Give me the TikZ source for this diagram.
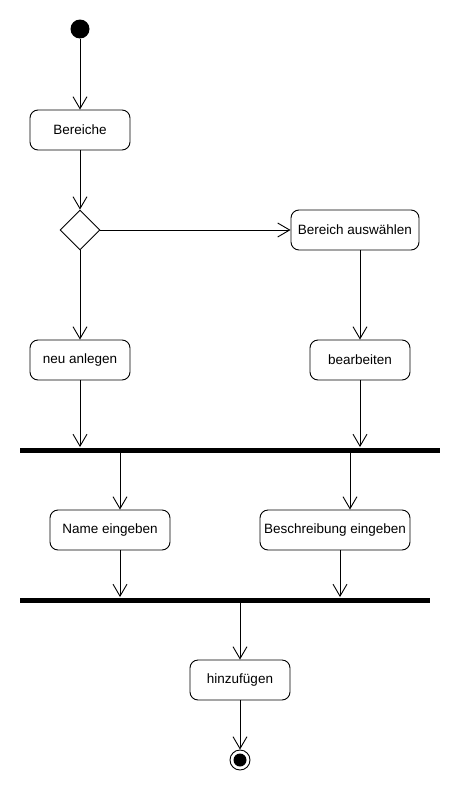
\documentclass[tikz,border=0pt]{standalone}
\usepackage{fontspec}
\setmainfont{Liberation Sans}
\usetikzlibrary{arrows.meta,shapes.geometric}
\begin{document}
\begin{tikzpicture}[x=10pt,y=-10pt,>={Straight Barb[length=12pt,width=14pt]},line width=0.9pt,
        action/.style={draw,rounded corners=8pt,minimum width=100pt,minimum height=40pt,inner sep=1pt,font=\fontsize{13.5}{16}\selectfont},
        startnode/.style={circle,fill=black,minimum size=19pt,inner sep=0pt},
        endnode/.style={circle,draw,fill=white,minimum size=20pt,inner sep=0pt,
            path picture={\fill[black] (path picture bounding box.center) circle (6.5pt);}},
        decision/.style={diamond,draw,minimum width=40pt,minimum height=40pt,inner sep=0pt},
        bar/.style={fill=black,minimum height=5pt,inner sep=0pt}]
        \useasboundingbox (0,0) rectangle (46,79);
        \begin{scope}
            % nodes
            \node[startnode] (start) at (8,2.9) {};
            \node[action] (bereiche) at (8,13) {Bereiche};
            \node[decision] (dec) at (8,23) {};
            \node[action,minimum width=128pt] (auswahl) at (35.5,23) {Bereich auswählen};
            \node[action] (neu) at (8,36) {neu anlegen};
            \node[action] (bearb) at (36,36) {bearbeiten};
            \node[bar,minimum width=420pt] (fork) at (23,45) {};
            \node[action,minimum width=120pt] (name) at (11,53) {Name eingeben};
            \node[action,minimum width=150pt] (beschr) at (33.5,53) {Beschreibung eingeben};
            \node[bar,minimum width=410pt] (join) at (22.5,60) {};
            \node[action] (hinz) at (24,68) {hinzufügen};
            \node[endnode] (final) at (24,76) {};
            % edges
            \draw[->] (start)--(bereiche);
            \draw[->] (bereiche)--(dec);
            \draw[->] (dec)--(auswahl);
            \draw[->] (dec)--(neu);
            \draw[->] (bearb.north |- auswahl.south)--(bearb);
            \draw[->] (neu)--(neu |- fork.north);
            \draw[->] (bearb)--(bearb |- fork.north);
            \draw[->] ([xshift=10pt]name.north |- fork.south)--([xshift=10pt]name.north);
            \draw[->] ([xshift=15pt]beschr.north |- fork.south)--([xshift=15pt]beschr.north);
            \draw[->] ([xshift=10pt]name.south)--([xshift=10pt]name.south |- join.north);
            \draw[->] ([xshift=5pt]beschr.south)--([xshift=5pt]beschr.south |- join.north);
            \draw[->] (hinz.north |- join.south)--(hinz);
            \draw[->] (hinz)--(final);
        \end{scope}
    \end{tikzpicture}
\end{document}
